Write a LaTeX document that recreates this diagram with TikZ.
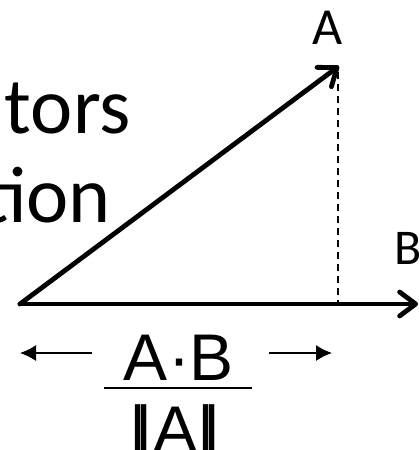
\documentclass[tikz,border=0pt]{standalone}
\usepackage{fontspec}
\setmainfont{Carlito}
\newfontfamily\arialf{Liberation Sans}
\usetikzlibrary{arrows.meta}
\newcommand\dblbar{|\kern-0.17em|}
\begin{document}
\begin{tikzpicture}[x=1pt,y=-1pt,
  vec/.style={line width=4.8pt,line cap=round,
    -{Straight Barb[length=16pt,width=24pt,round]}},
  thinarrow/.style={line width=1.4pt,-{Latex[length=16pt,width=16pt]}},
  lbl/.style={inner sep=0pt,font=\fontsize{52}{60}\selectfont},
  title/.style={inner sep=0pt,anchor=base east,font=\fontsize{80}{90}\selectfont},
  frac/.style={inner sep=0pt,font=\arialf\fontsize{66}{76}\selectfont}]
\useasboundingbox (0,0) rectangle (420,450);
\coordinate (O) at (20,304);
\coordinate (Atip) at (339,66);
\coordinate (Btip) at (418,304);
\coordinate (foot) at (338,304);
\coordinate (top) at (338,72);
\node[title] (t1) at (131,133) {tors};
\node[title] (t2) at (111,222) {tion};
\draw[line width=1.3pt,dash pattern=on 7pt off 5pt] (top) -- (foot);
\draw[vec] (O) -- (Atip);
\draw[vec] (O) -- (Btip);
\node[lbl,anchor=base] (la) at (328,44) {A};
\node[lbl,anchor=base west,font=\fontsize{50}{60}\selectfont] (lb) at (394,264) {B};
\node[frac,anchor=base] (num) at (179,380) {A·B};
\coordinate (barL) at (104,388);
\coordinate (barR) at (252,388);
\draw[line width=1.5pt] (barL) -- (barR);
\node[frac,anchor=base] (den) at (175,452) {\dblbar A\dblbar};
\coordinate (l1) at (92,353);
\coordinate (l2) at (20,353);
\coordinate (r1) at (269,353);
\coordinate (r2) at (332,353);
\draw[thinarrow] (l1) -- (l2);
\draw[thinarrow] (r1) -- (r2);
\end{tikzpicture}
\end{document}
